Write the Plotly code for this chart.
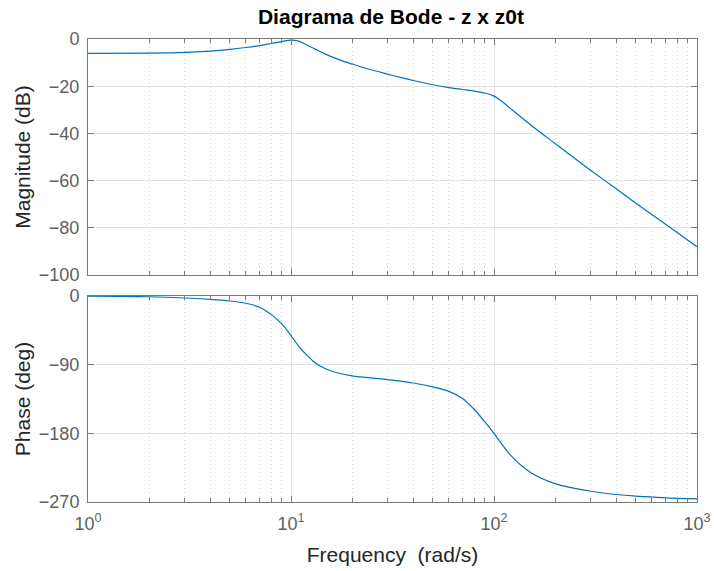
import plotly.graph_objects as go

# Bode response of z x z0t, sampled at selected frequencies (rad/s)
freq_mag = [1, 2, 3, 4, 5, 6, 7, 8, 9, 10, 10.8, 11.7, 13.1, 14.7, 16.5, 18.5, 20,
            23.2, 29, 35, 40, 50, 60, 70, 80, 90, 100, 110, 120, 150, 200, 300,
            400, 500, 700, 1000]
mag_db = [-6.1, -6.0, -5.7, -5.1, -4.4, -3.6, -2.8, -1.9, -1.1, -0.5, -0.8, -2.1,
          -4.2, -6.3, -8.1, -9.7, -10.6, -12.3, -14.6, -16.4, -17.6, -19.4, -20.6,
          -21.4, -22.1, -22.9, -24.2, -26.6, -29.3, -36.1, -44.3, -55.7, -63.5,
          -69.6, -78.5, -88.0]

freq_ph = [1, 2, 3, 4, 5, 6, 7, 8, 9, 10, 11, 12, 13, 14, 15, 17, 20, 30, 40, 50,
           60, 70, 80, 90, 100, 120, 150, 200, 300, 400, 500, 700, 1000]
phase_deg = [-0.3, -1.0, -2.6, -4.4, -6.5, -9.5, -14.8, -24.4, -36.5, -51.8, -67.0,
             -77.9, -86.6, -92.2, -96.0, -100.9, -104.8, -109.6, -114.0, -119.0,
             -125.0, -134.4, -148.7, -164.8, -180.0, -208.0, -230.7, -245.9,
             -255.9, -260.2, -262.4, -264.5, -265.8]

x_tickvals = [1, 10, 100, 1000]
x_ticktext = ["10<sup>0</sup>", "10<sup>1</sup>", "10<sup>2</sup>", "10<sup>3</sup>"]
mag_ticks = [0, -20, -40, -60, -80, -100]
phase_ticks = [0, -90, -180, -270]

LINE = "#0072BD"
AXIS = "#7a7a7a"
FAMILY = "Liberation Sans, Arial, sans-serif"
TICKFONT = dict(family=FAMILY, size=18, color="#606060")
LABELFONT = dict(family=FAMILY, size=21, color="#262626")
GRID = "#e2e2e2"
MINOR_GRID = "#d6d6d6"

fig = go.Figure()
fig.add_trace(go.Scatter(x=freq_mag, y=mag_db, xaxis="x", yaxis="y", mode="lines",
                         line=dict(color=LINE, width=1.2, shape="spline", smoothing=0.8),
                         showlegend=False))
fig.add_trace(go.Scatter(x=freq_ph, y=phase_deg, xaxis="x2", yaxis="y2", mode="lines",
                         line=dict(color=LINE, width=1.2, shape="spline", smoothing=0.8),
                         showlegend=False))

common_x = dict(
    type="log", range=[0, 3], domain=[0, 1], showline=True, linecolor=AXIS,
    linewidth=1, mirror="ticks", ticks="inside", ticklen=6, tickcolor=AXIS,
    tickvals=x_tickvals, showgrid=True, gridcolor=GRID, gridwidth=1,
    zeroline=False, automargin=False, tickfont=TICKFONT,
    minor=dict(ticks="inside", ticklen=4, tickcolor=AXIS, dtick="D1",
               showgrid=True, gridcolor=MINOR_GRID, griddash="1px,3px", gridwidth=1),
)
common_y = dict(
    showline=True, linecolor=AXIS, linewidth=1, mirror="ticks", ticks="inside",
    ticklen=6, tickcolor=AXIS, showgrid=True, gridcolor=GRID, gridwidth=1,
    zeroline=False, automargin=False, tickfont=TICKFONT, ticklabelstandoff=4,
)

fig.update_layout(
    width=714, height=571,
    margin=dict(l=88, r=17, t=39, b=69),
    paper_bgcolor="white", plot_bgcolor="white",
    title=dict(text="<b>Diagrama de Bode - z x z0t</b>", x=391 / 714, xanchor="center",
               y=1 - 17 / 571, yanchor="middle",
               font=dict(family=FAMILY, size=21, color="#000000")),
    xaxis=dict(common_x, anchor="y", showticklabels=False),
    yaxis=dict(common_y, domain=[0.4903, 1], range=[-100, 0], tickvals=mag_ticks,
               title=dict(text="Magnitude (dB)", font=LABELFONT, standoff=2)),
    xaxis2=dict(common_x, anchor="y2", ticktext=x_ticktext, ticklabelstandoff=5,
                title=dict(text="Frequency \u00a0(rad/s)", font=LABELFONT, standoff=14)),
    yaxis2=dict(common_y, domain=[0, 0.4449], range=[-270, 0], tickvals=phase_ticks,
                title=dict(text="Phase (deg)", font=LABELFONT, standoff=2)),
)

fig.write_html("out.html")
